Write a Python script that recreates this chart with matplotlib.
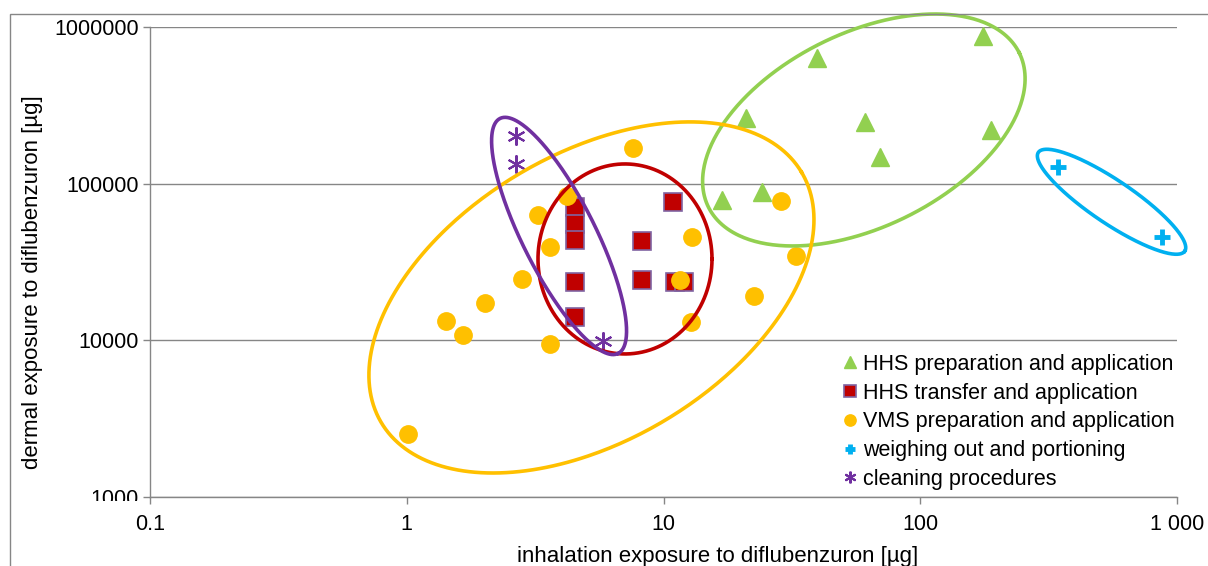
import numpy as np
import matplotlib
matplotlib.use("Agg")
import matplotlib.pyplot as plt
from matplotlib.patches import Rectangle
from matplotlib.ticker import FixedLocator, FixedFormatter
from matplotlib.transforms import Bbox

plt.rcParams['font.family'] = ['Liberation Sans', 'DejaVu Sans']

# ---- data: inhalation exposure (x, µg) and dermal exposure (y, µg) ----
hhs_prep_x = [176, 39.5, 21.0, 61.1, 188, 69.7, 24.2, 16.9]
hhs_prep_y = [876000, 631500, 261500, 246500, 220100, 147400, 88100, 78700]

hhs_transfer_x = [4.54, 4.54, 4.54, 4.54, 4.54, 10.9, 8.25, 8.25, 11.1, 12.05]
hhs_transfer_y = [71300, 55300, 43700, 23600, 14000, 76800, 43000, 24200, 23400, 23700]

vms_x = [1.01, 1.42, 1.66, 2.01, 2.81, 3.24, 3.60, 3.61, 4.21, 7.59,
         11.6, 12.8, 12.9, 22.5, 28.6, 32.8]
vms_y = [2520, 13360, 10780, 17400, 24750, 63100, 39450, 9480, 83800, 169700,
         24300, 13160, 45900, 19200, 77500, 34600]

weighing_x = [345, 872]
weighing_y = [128400, 45900]

cleaning_x = [2.66, 2.66, 5.83]
cleaning_y = [202000, 133600, 9950]

series_labels = ["HHS preparation and application",
                 "HHS transfer and application",
                 "VMS preparation and application",
                 "weighing out and portioning",
                 "cleaning procedures"]

x_ticks = [0.1, 1, 10, 100, 1000]
x_tick_labels = ["0.1", "1", "10", "100", "1 000"]
y_ticks = [1000, 10000, 100000, 1000000]
y_tick_labels = ["1000", "10000", "100000", "1000000"]

# grouping ellipses: centre (data), semi-axes (px), rotation (deg)
ellipse_centres = [(60.3, 220100), (7.08, 33070), (5.24, 18780), (556, 76650), (3.92, 46370)]
ellipse_axes = [(173.5, 96.7), (87, 95), (244.6, 143.2), (88.3, 21.5), (131.5, 36.5)]
ellipse_angles = [26.4, 0, 30.8, -34, -63.3]

GREEN = "#92D050"
RED = "#C00000"
YELLOW = "#FFC000"
BLUE = "#00B0F0"
PURPLE = "#7030A0"
GRID = "#868686"

W, H = 1208, 566
fig = plt.figure(figsize=(W / 100, H / 100), dpi=100)
ax = fig.add_axes([150 / W, 1 - 497 / H, 1027 / W, 470 / H])
ax.set_xscale("log")
ax.set_yscale("log")
ax.set_xlim(0.1, 1000)
ax.set_ylim(1000, 1000000)

# outer chart frame
fig.patches.append(Rectangle((10 / W, -0.05), 1.1, 0.05 + (1 - 14 / H),
                             transform=fig.transFigure, fill=False,
                             edgecolor=GRID, lw=1.0, zorder=0))

ax.xaxis.set_major_locator(FixedLocator(x_ticks))
ax.xaxis.set_major_formatter(FixedFormatter(x_tick_labels))
ax.xaxis.set_minor_locator(FixedLocator([]))
ax.yaxis.set_major_locator(FixedLocator(y_ticks))
ax.yaxis.set_major_formatter(FixedFormatter(y_tick_labels))
ax.yaxis.set_minor_locator(FixedLocator([]))

for s in ["top", "right"]:
    ax.spines[s].set_visible(False)
for s in ["left", "bottom"]:
    ax.spines[s].set_color(GRID)
    ax.spines[s].set_linewidth(1.0)
ax.tick_params(axis="both", which="major", direction="out", length=5,
               width=1.0, color=GRID, labelsize=15.5, labelcolor="black")
ax.tick_params(axis="x", pad=7)
ax.tick_params(axis="y", pad=3)
ax.grid(axis="y", color=GRID, lw=1.0, zorder=0)
ax.set_axisbelow(True)

ax.set_xlabel("inhalation exposure to diflubenzuron [µg]", fontsize=16)
ax.set_ylabel("dermal exposure to diflubenzuron [µg]", fontsize=16)
ax.xaxis.set_label_coords(0.553, -0.105)
ax.yaxis.set_label_coords(-0.104, 0.457)

ax.plot(hhs_prep_x, hhs_prep_y, ls="none", marker="^", ms=12.5, color=GREEN,
        mec=GREEN, label=series_labels[0], zorder=3)
ax.plot(hhs_transfer_x, hhs_transfer_y, ls="none", marker="s", ms=12.5, color=RED,
        mec="#8064A2", mew=1.2, label=series_labels[1], zorder=3)
ax.plot(vms_x, vms_y, ls="none", marker="o", ms=12.5, color=YELLOW,
        mec=YELLOW, label=series_labels[2], zorder=3)
ax.plot(weighing_x, weighing_y, ls="none", marker="+", ms=12, mew=3.5, color=BLUE,
        label=series_labels[3], zorder=3)
ax.plot(cleaning_x, cleaning_y, ls="none", marker=(6, 2, 0), ms=13, mew=1.5,
        color=PURPLE, label=series_labels[4], zorder=3)

# ellipses drawn in screen-like proportions on the log axes
fig.canvas.draw()
bb = ax.get_window_extent()
px_per_dec_x = bb.width / np.log10(1000 / 0.1)
px_per_dec_y = bb.height / np.log10(1000000 / 1000)
t = np.linspace(0, 2 * np.pi, 400)
for (cx, cy), (a, b), ang, col in zip(ellipse_centres, ellipse_axes, ellipse_angles,
                                      [GREEN, RED, YELLOW, BLUE, PURPLE]):
    th = np.deg2rad(ang)
    dx = a * np.cos(t) * np.cos(th) - b * np.sin(t) * np.sin(th)
    dy = a * np.cos(t) * np.sin(th) + b * np.sin(t) * np.cos(th)
    ax.plot(cx * 10 ** (dx / px_per_dec_x), cy * 10 ** (dy / px_per_dec_y),
            color=col, lw=2.6, zorder=4, clip_on=False)

leg = ax.legend(loc="upper left", bbox_to_anchor=(844 / W, 1 - 354 / H),
                bbox_transform=fig.transFigure, frameon=False, fontsize=15.5,
                markerscale=0.65, handlelength=0.6, handletextpad=0.3,
                labelspacing=0.36, borderaxespad=0, borderpad=0)

# the lowest y tick label is cut just below the axis line
lowest = ax.yaxis.get_major_ticks()[0].label1
lowest.set_clip_box(Bbox.from_extents(0, H - 501, 149, H))
lowest.set_clip_on(True)

fig.savefig("out.png", dpi=100)
